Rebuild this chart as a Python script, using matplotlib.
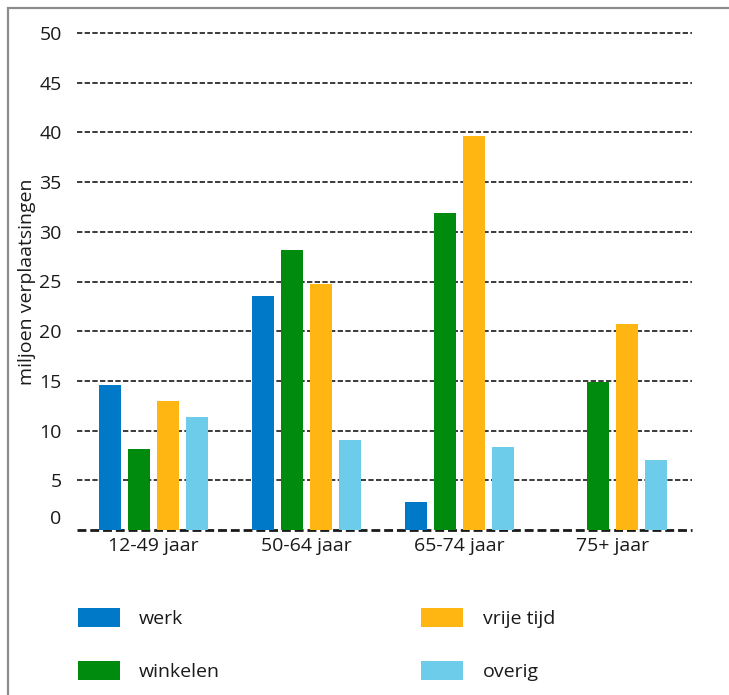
import matplotlib
matplotlib.use("Agg")
import matplotlib.pyplot as plt
import matplotlib.transforms as mtransforms
from matplotlib.patches import Rectangle
import numpy as np

plt.rcParams['font.family'] = ['Open Sans', 'DejaVu Sans']

# data
age_groups = ["12-49 jaar", "50-64 jaar", "65-74 jaar", "75+ jaar"]
purposes = ["werk", "winkelen", "vrije tijd", "overig"]
werk = [14.6, 23.5, 2.8, 0.0]
winkelen = [8.1, 28.2, 31.9, 14.9]
vrije_tijd = [13.0, 24.7, 39.6, 20.7]
overig = [11.4, 9.1, 8.3, 7.0]
y_ticks = [0, 5, 10, 15, 20, 25, 30, 35, 40, 45, 50]

COLORS = ["#0079c8", "#008a0e", "#ffb612", "#6dcce9"]
BAR_W = 0.144
STEP = 0.19
FS = 14

fig = plt.figure(figsize=(7.29, 6.95), dpi=100)
ax = fig.add_axes([77 / 729, 1 - 530 / 695, 615 / 729, 497 / 695])

x = np.arange(len(age_groups))
series = [werk, winkelen, vrije_tijd, overig]
handles = []
for i, (vals, col, name) in enumerate(zip(series, COLORS, purposes)):
    bars = ax.bar(x + (i - 1.5) * STEP, vals, width=BAR_W, color=col, label=name, zorder=3)
    handles.append(bars)

ax.set_xlim(-0.5, 3.52)
ax.set_ylim(0, 50)
ax.set_yticks(y_ticks)
ax.set_xticks(x)
ax.set_xticklabels(age_groups, fontsize=FS)
ax.tick_params(axis='y', labelsize=FS, length=0, pad=11, labelcolor="#1a1a1a")
ax.tick_params(axis='x', length=0, pad=5, labelcolor="#1a1a1a")
for s in ax.spines.values():
    s.set_visible(False)

# dashed horizontal gridlines, zero line heavier
for t in y_ticks:
    lw = 2.0 if t == 0 else 1.2
    ax.axhline(t, color="#1a1a1a", lw=lw, ls=(0, (3.2, 1.4)), zorder=2, clip_on=False)

# the "0" label sits a bit above the axis line in the reference
zero_lbl = ax.get_yticklabels()[0]
zero_lbl.set_transform(zero_lbl.get_transform() + mtransforms.ScaledTranslation(0, 9 / 72, fig.dpi_scale_trans))

ax.set_ylabel("miljoen verplaatsingen", fontsize=FS, labelpad=2, color="#1a1a1a")

leg = fig.legend(handles=handles, labels=purposes, ncol=2, loc='upper left',
                 bbox_to_anchor=(60 / 729, 1 - 590 / 695), frameon=False, fontsize=FS,
                 handlelength=2.16, handleheight=1.13, handletextpad=1.0,
                 columnspacing=10.35, labelspacing=1.71)
for txt in leg.get_texts():
    txt.set_color("#1a1a1a")

# grey frame around the whole graphic
fig.add_artist(Rectangle((8 / 729, -0.05), 1.1, 1 - 8 / 695 + 0.05, transform=fig.transFigure,
                         fill=False, edgecolor="#8c8c8c", lw=1.6))

fig.savefig("out.png", dpi=100)
